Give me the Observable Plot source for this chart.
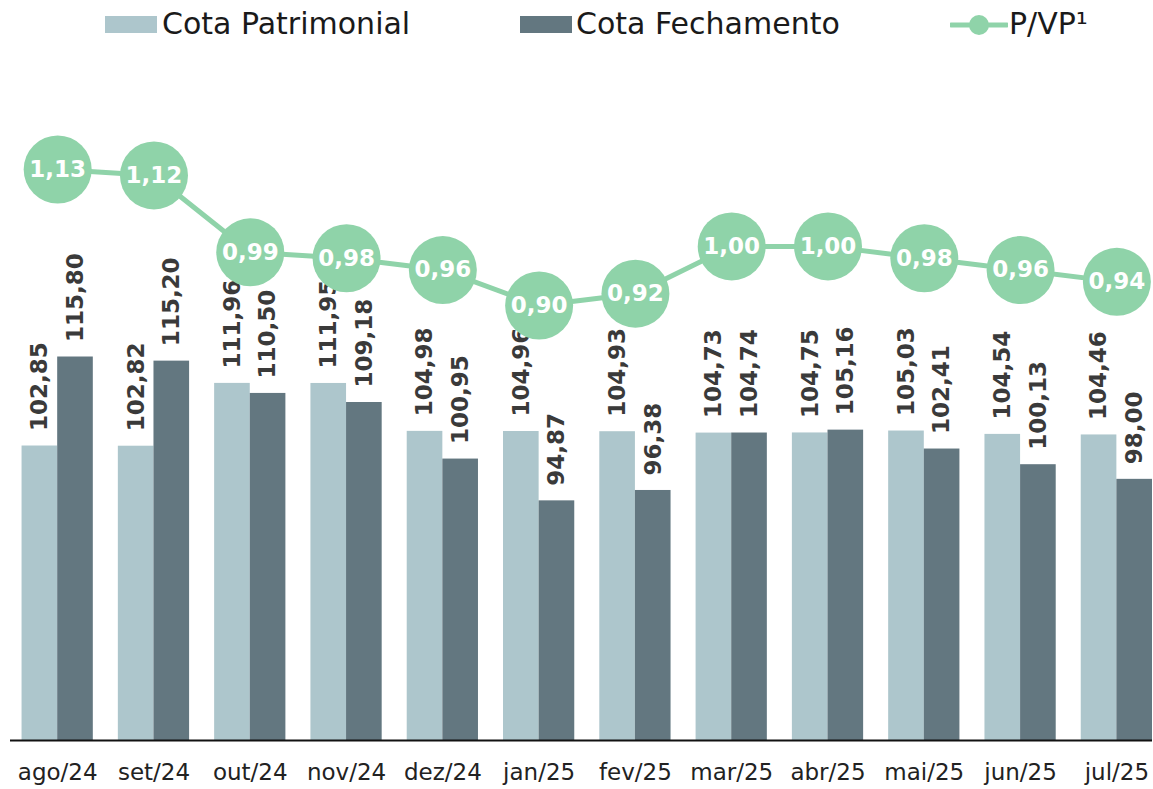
<!DOCTYPE html>
<html>
<head>
<meta charset="utf-8">
<script src="https://cdn.jsdelivr.net/npm/d3@7"></script>
<script src="https://cdn.jsdelivr.net/npm/@observablehq/plot@0.6"></script>
<style>
  html, body { margin: 0; padding: 0; background: #fff; overflow: hidden; }
  #legend { position: relative; width: 1153px; height: 55px; font-family: "DejaVu Sans", sans-serif; color: #1a1a1a; }
  #legend .sw { position: absolute; top: 16px; width: 52px; height: 17px; }
  #legend .lb { position: absolute; top: 5px; font-size: 30px; line-height: 38px; white-space: nowrap; }
  #legend svg { position: absolute; }
</style>
</head>
<body>
<div id="legend">
  <div class="sw" style="left:105px;background:#adc6cc"></div>
  <div class="lb" style="left:162px">Cota Patrimonial</div>
  <div class="sw" style="left:520px;background:#637780"></div>
  <div class="lb" style="left:576px">Cota Fechamento</div>
  <svg style="left:950px;top:14px" width="58" height="22"><line x1="1" y1="11" x2="57" y2="11" stroke="#8fd3a9" stroke-width="5" stroke-linecap="round"/><circle cx="29" cy="11" r="10" fill="#8fd3a9"/></svg>
  <div class="lb" style="left:1009px">P/VP¹</div>
</div>
<div id="chart"></div>
<script>
const months = ["ago/24","set/24","out/24","nov/24","dez/24","jan/25","fev/25","mar/25","abr/25","mai/25","jun/25","jul/25"];
const cotaPatrimonial = [102.85,102.82,111.96,111.95,104.98,104.96,104.93,104.73,104.75,105.03,104.54,104.46];
const cotaFechamento = [115.80,115.20,110.50,109.18,100.95,94.87,96.38,104.74,105.16,102.41,100.13,98.00];
const pvp = [1.13,1.12,0.99,0.98,0.96,0.90,0.92,1.00,1.00,0.98,0.96,0.94];

const data = months.map((m, i) => ({month: m, pat: cotaPatrimonial[i], fec: cotaFechamento[i], pvp: pvp[i]}));

const width = 1153, height = 734;
const marginLeft = 10, marginRight = 1, marginTop = 0, marginBottom = 49;
const padInner = 0.26, padOuter = 0.06, align = 1;
const yMin = 60, yMax = 159.67;

// band width (same parameters as Plot's x band scale)
const xb = d3.scaleBand(months, [marginLeft, width - marginRight]).paddingInner(padInner).paddingOuter(padOuter).align(align);
const bw = xb.bandwidth();

// secondary axis for P/VP mapped into the bar value space
const pvpToY = d3.scaleLinear().domain([0.90, 1.13]).range([123.29, 143.08]);

const fmt = v => v.toFixed(2).replace(".", ",");
const green = "#8fd3a9";

const chart = Plot.plot({
  width, height, marginLeft, marginRight, marginTop, marginBottom,
  style: {fontFamily: "DejaVu Sans, sans-serif", background: "#fff"},
  x: {domain: months, paddingInner: padInner, paddingOuter: padOuter, align, round: false, label: null},
  y: {domain: [yMin, yMax], axis: null},
  marks: [
    Plot.barY(data, {x: "month", y1: yMin, y2: "pat", fill: "#adc6cc", insetRight: bw / 2}),
    Plot.barY(data, {x: "month", y1: yMin, y2: "fec", fill: "#637780", insetLeft: bw / 2}),
    Plot.ruleY([yMin], {stroke: "#111", strokeWidth: 2}),
    Plot.axisX({tickSize: 0, tickPadding: 23, fontSize: 23, fill: "#222", label: null}),
    Plot.text(data, {x: "month", y: "pat", text: d => fmt(d.pat), rotate: -90, textAnchor: "start", dx: -bw / 4, dy: -15, fontSize: 23, fontWeight: "bold", fill: "#3a3a3a"}),
    Plot.text(data, {x: "month", y: "fec", text: d => fmt(d.fec), rotate: -90, textAnchor: "start", dx: bw / 4, dy: -15, fontSize: 23, fontWeight: "bold", fill: "#3a3a3a"}),
    Plot.line(data, {x: "month", y: d => pvpToY(d.pvp), stroke: green, strokeWidth: 5}),
    Plot.dot(data, {x: "month", y: d => pvpToY(d.pvp), r: 34, fill: green}),
    Plot.text(data, {x: "month", y: d => pvpToY(d.pvp), text: d => fmt(d.pvp), fill: "#fff", fontSize: 23, fontWeight: "bold"})
  ]
});
document.getElementById("chart").appendChild(chart);
</script>
</body>
</html>
